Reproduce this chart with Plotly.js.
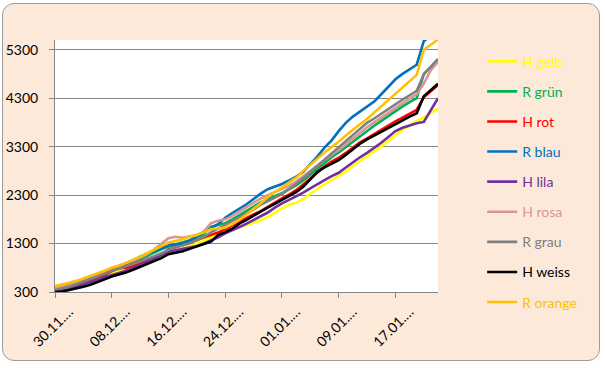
<!DOCTYPE html>
<html>
<head>
<meta charset="utf-8">
<script src="https://cdn.plot.ly/plotly-3.0.1.min.js"></script>
<style>
  html, body { margin: 0; padding: 0; background: #ffffff; width: 605px; height: 368px; overflow: hidden; }
  #frame { position: absolute; left: 2px; top: 3px; width: 596px; height: 356px;
           background: #FDE9D9; border: 1.5px solid #9c9c9c; border-radius: 12px; }
  #chart { position: absolute; left: 0; top: 0; width: 605px; height: 368px; }
</style>
</head>
<body>
<div id="frame"></div>
<div id="chart"></div>
<script>
// categories (days)
const dates = [
  "30.11.", "01.12.", "02.12.", "03.12.", "04.12.", "05.12.", "06.12.", "07.12.", "08.12.", "09.12.",
  "10.12.", "11.12.", "12.12.", "13.12.", "14.12.", "15.12.", "16.12.", "17.12.", "18.12.", "19.12.",
  "20.12.", "21.12.", "22.12.", "23.12.", "24.12.", "25.12.", "26.12.", "27.12.", "28.12.", "29.12.",
  "30.12.", "31.12.", "01.01.", "02.01.", "03.01.", "04.01.", "05.01.", "06.01.", "07.01.", "08.01.",
  "09.01.", "10.01.", "11.01.", "12.01.", "13.01.", "14.01.", "15.01.", "16.01.", "17.01.", "18.01.",
  "19.01.", "20.01.", "21.01.", "22.01.", "23.01."
];
const tickDates = ["30.11.", "08.12.", "16.12.", "24.12.", "01.01.", "09.01.", "17.01."];
const tickLabels = ["30.11.…", "08.12.…", "16.12.…", "24.12.…", "01.01.…", "09.01.…", "17.01.…"];
const yTicks = [300, 1300, 2300, 3300, 4300, 5300];

const seriesNames = ["H gelb", "R grün", "H rot", "R blau", "H lila", "H rosa", "R grau", "H weiss", "R orange"];
const seriesColors = ["#FFFF00", "#00B050", "#FF0000", "#0070C0", "#7030A0", "#D99694", "#808080", "#000000", "#FFC000"];

const hGelb = [380,410,440,480,530,570,610,660,700,730,760,790,830,890,950,1020,1090,1140,1190,1240,
  1300,1360,1430,1520,1590,1610,1640,1680,1730,1780,1850,1940,2020,2100,2140,2220,2330,2430,2520,2610,
  2690,2790,2900,3000,3100,3200,3300,3420,3540,3650,3740,3830,3900,3990,4090];
const rGruen = [350,390,430,480,530,590,640,700,760,800,850,910,980,1050,1120,1180,1240,1280,1320,1370,
  1430,1500,1650,1690,1720,1800,1890,1980,2060,2150,2220,2280,2340,2420,2500,2600,2720,2840,2970,3080,
  3180,3290,3410,3520,3630,3730,3830,3930,4040,4130,4220,4300,4800,4950,5090];
const hRot = [320,350,390,430,480,530,590,650,730,790,800,830,880,940,1000,1070,1180,1220,1260,1310,
  1370,1420,1480,1530,1590,1680,1750,1830,1900,1970,2060,2150,2230,2310,2400,2520,2650,2780,2890,2990,
  3070,3170,3290,3390,3470,3560,3650,3740,3820,3900,3980,4060,4320,4440,4570];
const rBlau = [350,390,430,480,540,590,640,700,780,830,880,950,1030,1090,1150,1210,1260,1280,1300,1360,
  1450,1540,1620,1700,1830,1930,2020,2110,2220,2330,2420,2470,2530,2600,2680,2780,2930,3100,3280,3430,
  3620,3790,3920,4020,4130,4230,4380,4540,4690,4800,4890,4990,5480,5580,5680];
const hLila = [320,340,370,410,460,500,550,600,650,690,740,790,860,920,990,1060,1130,1160,1190,1220,
  1250,1300,1360,1430,1510,1570,1640,1710,1790,1860,1940,2040,2130,2200,2270,2350,2440,2530,2610,2690,
  2760,2870,2980,3080,3170,3270,3380,3500,3620,3690,3740,3780,3810,4060,4300];
const hRosa = [380,410,450,500,550,600,650,720,790,840,890,950,1010,1080,1180,1300,1410,1440,1420,1450,
  1470,1550,1720,1770,1800,1870,1960,2060,2150,2230,2300,2360,2420,2490,2580,2690,2800,2920,3030,3130,
  3230,3350,3470,3590,3700,3800,3900,4000,4100,4200,4290,4380,4600,4880,5050];
const rGrau = [340,370,410,460,520,570,620,680,740,780,830,880,940,990,1040,1100,1170,1220,1260,1310,
  1370,1440,1530,1610,1690,1760,1840,1920,2000,2100,2180,2250,2320,2420,2530,2650,2770,2900,3030,3160,
  3290,3420,3550,3670,3790,3880,3980,4080,4180,4270,4360,4450,4790,4950,5110];
const hWeiss = [300,310,340,370,410,450,500,560,620,660,700,760,820,880,940,1000,1080,1110,1140,1190,
  1240,1290,1340,1480,1530,1610,1710,1790,1880,1960,2040,2120,2200,2270,2360,2470,2620,2780,2870,2940,
  3020,3130,3250,3360,3450,3530,3610,3690,3770,3850,3920,3990,4340,4470,4600];
const rOrange = [420,450,490,530,580,630,680,740,800,840,900,960,1030,1100,1170,1240,1320,1350,1390,1440,
  1480,1530,1600,1610,1630,1700,1790,1900,2010,2130,2260,2360,2450,2550,2660,2800,2930,3060,3180,3290,
  3400,3530,3650,3760,3870,4000,4140,4270,4390,4520,4650,4780,5300,5400,5510];

const seriesValues = [hGelb, rGruen, hRot, rBlau, hLila, hRosa, rGrau, hWeiss, rOrange];

const FONT = "Lato, 'Open Sans', sans-serif";

const traces = seriesNames.map((name, k) => ({
  type: "scatter",
  mode: "lines",
  x: dates,
  y: seriesValues[k],
  name: '<span style="color:' + seriesColors[k] + '">' + name + '</span>',
  legendgroup: "g" + k,
  line: { color: seriesColors[k], width: 2.6 },
  hoverinfo: "skip"
}));

const layout = {
  width: 605,
  height: 368,
  paper_bgcolor: "rgba(0,0,0,0)",
  plot_bgcolor: "#ffffff",
  margin: { l: 55, r: 167, t: 40, b: 76 },
  font: { family: FONT, size: 14, color: "#000000" },
  showlegend: true,
  legend: {
    xref: "container", yref: "container",
    x: 0.797, xanchor: "left",
    y: 0.876, yanchor: "top",
    maxheight: 330,
    bgcolor: "rgba(0,0,0,0)",
    font: { family: FONT, size: 14 },
    traceorder: "grouped",
    tracegroupgap: 8.9,
    itemwidth: 30
  },
  xaxis: {
    type: "category",
    categoryorder: "array",
    categoryarray: dates,
    range: [0, dates.length - 1],
    tickmode: "array",
    tickvals: tickDates,
    ticktext: tickLabels,
    tickangle: -45,
    ticks: "outside",
    ticklen: 5,
    tickcolor: "#868686",
    showline: true,
    linecolor: "#868686",
    linewidth: 1,
    showgrid: false,
    zeroline: false,
    tickfont: { family: FONT, size: 14, color: "#000000" },
    ticklabelshift: 14
  },
  yaxis: {
    range: [300, 5500],
    tickmode: "array",
    tickvals: yTicks,
    ticktext: yTicks.map(String),
    ticks: "outside",
    ticklen: 5,
    tickcolor: "#868686",
    showline: true,
    linecolor: "#868686",
    linewidth: 1,
    showgrid: true,
    gridcolor: "#868686",
    gridwidth: 1,
    zeroline: false,
    tickfont: { family: FONT, size: 14, color: "#000000" },
    ticklabelstandoff: 8
  }
};

Plotly.newPlot("chart", traces, layout, { staticPlot: true, displayModeBar: false });
</script>
</body>
</html>
